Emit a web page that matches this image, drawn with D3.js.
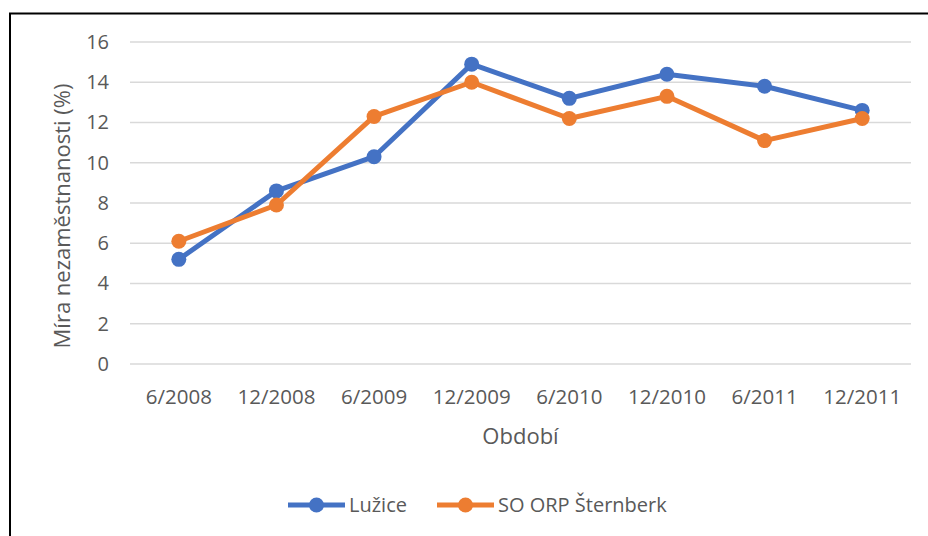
<!DOCTYPE html>
<html lang="cs">
<head>
    <meta charset="UTF-8">
    <title>Míra nezaměstnanosti</title>
    <script src="https://cdn.jsdelivr.net/npm/d3@7"></script>
    <style>
        html, body {
            margin: 0;
            background: #fff;
        }
        text {
            font-family: "Open Sans", sans-serif;
            fill: #595959;
        }
    </style>
</head>
<body>
<div class="chart"></div>

<script>

    var periods = ["6/2008", "12/2008", "6/2009", "12/2009", "6/2010", "12/2010", "6/2011", "12/2011"];
    var luzice = [5.2, 8.6, 10.3, 14.9, 13.2, 14.4, 13.8, 12.6];
    var sternberk = [6.1, 7.9, 12.3, 14.0, 12.2, 13.3, 11.1, 12.2];
    var yTicks = [0, 2, 4, 6, 8, 10, 12, 14, 16];
    var seriesNames = ["Lužice", "SO ORP Šternberk"];
    var colors = ["#4472c4", "#ed7d31"];

    var width = 928, height = 536;
    var margin = {left: 130, right: 17, top: 42, bottom: 172};

    var svg = d3.select('.chart').append('svg')
        .attr('width', width)
        .attr('height', height);

    // chart frame (only top and left edges are visible)
    svg.append('rect')
        .attr('x', 10).attr('y', 13.5)
        .attr('width', 940).attr('height', 560)
        .attr('fill', 'none')
        .attr('stroke', '#000')
        .attr('stroke-width', 2);

    var x = d3.scaleBand()
        .domain(periods)
        .range([margin.left, width - margin.right]);

    var y = d3.scaleLinear()
        .domain([0, 16])
        .range([height - margin.bottom, margin.top]);

    // gridlines
    svg.append('g')
        .selectAll('line')
        .data(yTicks)
        .enter().append('line')
        .attr('x1', margin.left)
        .attr('x2', width - margin.right)
        .attr('y1', function (d) { return y(d); })
        .attr('y2', function (d) { return y(d); })
        .attr('stroke', '#d9d9d9')
        .attr('stroke-width', 1.5);

    var yAxis = d3.axisLeft(y).tickValues(yTicks).tickSize(0).tickPadding(21);
    var yG = svg.append('g')
        .attr('transform', 'translate(' + margin.left + ',0)')
        .call(yAxis);
    yG.select('.domain').remove();
    yG.selectAll('text').style('font-size', '20px').style('fill', '#595959');

    var xAxis = d3.axisBottom(x).tickSize(0).tickPadding(25);
    var xG = svg.append('g')
        .attr('transform', 'translate(0,' + y(0) + ')')
        .call(xAxis);
    xG.select('.domain').remove();
    xG.selectAll('text').style('font-size', '20.5px').style('fill', '#595959');

    // axis titles
    svg.append('text')
        .attr('transform', 'translate(70,' + (y(8) + 13) + ') rotate(-90)')
        .attr('text-anchor', 'middle')
        .style('font-size', '22px')
        .text('Míra nezaměstnanosti (%)');

    svg.append('text')
        .attr('x', (margin.left + width - margin.right) / 2)
        .attr('y', 444)
        .attr('text-anchor', 'middle')
        .style('font-size', '22px')
        .text('Období');

    var line = d3.line()
        .x(function (d, i) { return x(periods[i]) + x.bandwidth() / 2; })
        .y(function (d) { return y(d); });

    [luzice, sternberk].forEach(function (data, k) {
        var g = svg.append('g');
        g.append('path')
            .attr('d', line(data))
            .attr('fill', 'none')
            .attr('stroke', colors[k])
            .attr('stroke-width', 5)
            .attr('stroke-linejoin', 'round');
        g.selectAll('circle')
            .data(data)
            .enter().append('circle')
            .attr('cx', function (d, i) { return x(periods[i]) + x.bandwidth() / 2; })
            .attr('cy', function (d) { return y(d); })
            .attr('r', 7.5)
            .attr('fill', colors[k]);
    });

    // legend
    var legend = svg.append('g').attr('transform', 'translate(0,505)');
    var legendX = [288, 437];
    seriesNames.forEach(function (name, k) {
        var lg = legend.append('g').attr('transform', 'translate(' + legendX[k] + ',0)');
        lg.append('line')
            .attr('x1', 0).attr('x2', 57)
            .attr('stroke', colors[k])
            .attr('stroke-width', 5);
        lg.append('circle')
            .attr('cx', 28.5).attr('r', 7.5)
            .attr('fill', colors[k]);
        lg.append('text')
            .attr('x', 61)
            .attr('dy', '0.35em')
            .style('font-size', '20px')
            .text(name);
    });

</script>
</body>
</html>
